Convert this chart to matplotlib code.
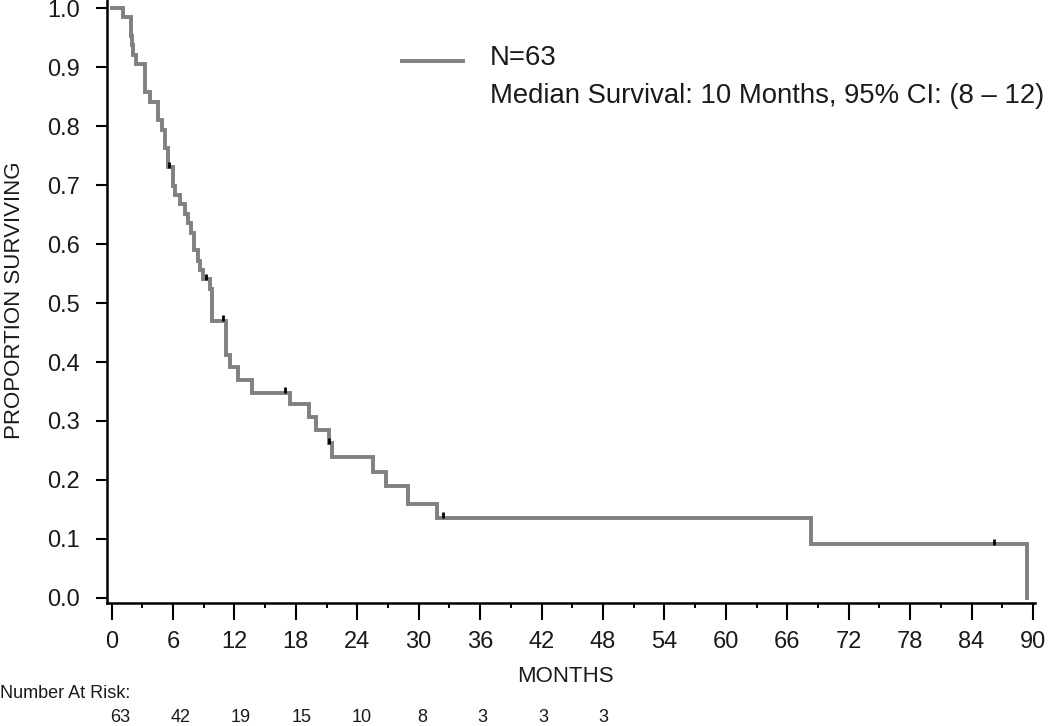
import matplotlib
matplotlib.use("Agg")
import matplotlib.pyplot as plt
from matplotlib.lines import Line2D
from matplotlib.ticker import MultipleLocator
from matplotlib.transforms import blended_transform_factory

plt.rcParams['font.family'] = ['Liberation Sans', 'DejaVu Sans']

# Kaplan-Meier steps: month of each drop and the new level
step_months = [0, 1.1, 1.9, 2.0, 2.1, 2.4, 3.3, 3.8, 4.5, 4.9, 5.2, 5.5, 6.0, 6.2,
               6.7, 7.2, 7.5, 7.8, 8.1, 8.4, 8.6, 8.9, 9.6, 9.8, 11.2, 11.55,
               12.4, 13.75, 17.4, 19.3, 20.0, 21.2, 21.5, 25.5, 26.8, 29.0,
               31.8, 68.3, 89.4]
step_surv = [1.0, 0.984, 0.952, 0.937, 0.921, 0.905, 0.857, 0.841, 0.810, 0.794,
             0.762, 0.730, 0.698, 0.683, 0.667, 0.651, 0.635, 0.619, 0.590,
             0.571, 0.556, 0.540, 0.524, 0.470, 0.412, 0.392, 0.369, 0.348,
             0.329, 0.307, 0.285, 0.262, 0.239, 0.214, 0.190, 0.159, 0.136,
             0.091, 0.0]

# censored observations (month, level)
censor_months = [5.6, 9.2, 10.9, 16.9, 21.2, 32.4, 86.2]
censor_surv = [0.730, 0.540, 0.470, 0.348, 0.262, 0.136, 0.091]

risk_months = [0, 6, 12, 18, 24, 30, 36, 42, 48]
risk_counts = [63, 42, 19, 15, 10, 8, 3, 3, 3]

W, H = 1050, 726
fig = plt.figure(figsize=(W / 100, H / 100), dpi=100)
ax = fig.add_axes([107 / W, (H - 603) / H, (1035 - 107) / W, 603 / H])

line_col = '#808080'
txt_col = '#1a1a1a'

ax.step(step_months, step_surv, where='post', color=line_col, lw=2.8,
        solid_joinstyle='miter')
ax.plot(censor_months, [s + 0.004 for s in censor_surv], ls='none', marker='|',
        ms=5, mew=2, color='black')

ax.set_xlim(-0.44, 90.2)
ax.set_ylim(-0.0085, 1.0136)

ax.xaxis.set_major_locator(MultipleLocator(6))
ax.xaxis.set_minor_locator(MultipleLocator(3))
ax.set_yticks([i / 10 for i in range(11)])
ax.set_yticklabels(['%.1f' % (i / 10) for i in range(11)])

for s in ['top', 'right']:
    ax.spines[s].set_visible(False)
for s in ['left', 'bottom']:
    ax.spines[s].set_linewidth(1.8)
    ax.spines[s].set_color('black')

ax.tick_params(axis='y', which='major', length=7.9, width=1.5, pad=11.5,
               labelsize=17, labelcolor=txt_col)
ax.tick_params(axis='x', which='major', length=12.2, width=1.5, pad=8,
               labelsize=17, labelcolor=txt_col)
ax.tick_params(axis='x', which='minor', length=3.6, width=1.4)

# axis titles
fig.text(14.5 / W, 1 - 300 / H, 'PROPORTION SURVIVING', rotation=90,
         ha='center', va='center', fontsize=16, color=txt_col)
fig.text(565 / W, 1 - 676 / H, 'MONTHS', ha='center', va='center',
         fontsize=16, color=txt_col)

# legend drawn by hand
fig.add_artist(Line2D([402 / W, 463 / W], [1 - 61 / H] * 2, color=line_col,
                      lw=2.8, transform=fig.transFigure))
fig.text(490 / W, 1 - 58 / H, 'N=63', ha='left', va='center', fontsize=19.8,
         color=txt_col)
fig.text(490 / W, 1 - 96 / H, 'Median Survival: 10 Months, 95% CI: (8 \u2013 12)',
         ha='left', va='center', fontsize=19.8, color=txt_col)

# number at risk table
fig.text(0, 1 - 693 / H, 'Number At Risk:', ha='left', va='center',
         fontsize=13, color=txt_col)
tr = blended_transform_factory(ax.transData, fig.transFigure)
for m, n in zip(risk_months, risk_counts):
    ax.text(m * 0.985 + 0.8, 1 - 717 / H, str(n), transform=tr, ha='center',
            va='center', fontsize=13, color=txt_col, clip_on=False)

fig.savefig('out.png', dpi=100)
